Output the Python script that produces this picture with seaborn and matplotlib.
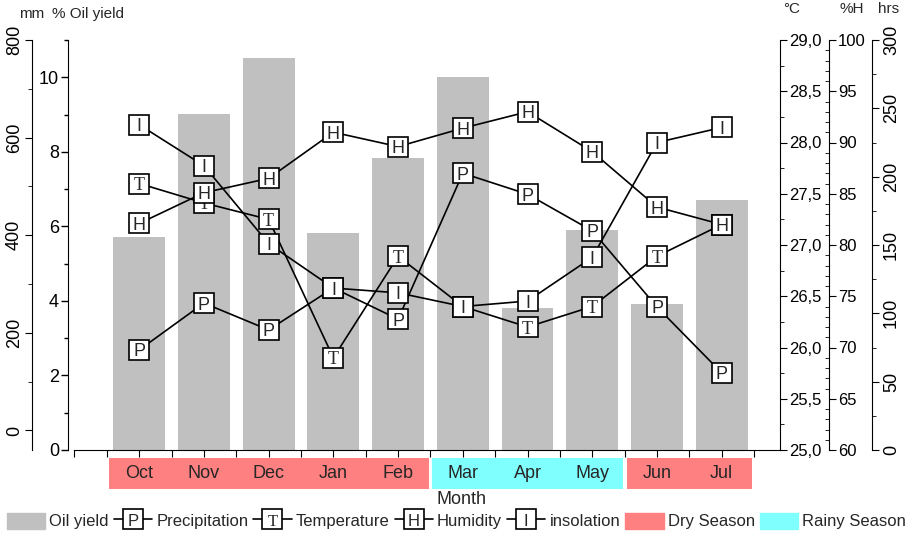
import numpy as np
import matplotlib
matplotlib.use('Agg')
import matplotlib.pyplot as plt
import seaborn as sns
from matplotlib.ticker import MultipleLocator, FuncFormatter
from matplotlib.lines import Line2D
from matplotlib.patches import Patch, Rectangle
from matplotlib.legend_handler import HandlerBase
from matplotlib.text import Text

# data
months = ['Oct', 'Nov', 'Dec', 'Jan', 'Feb', 'Mar', 'Apr', 'May', 'Jun', 'Jul']
seasons = ['Dry', 'Dry', 'Dry', 'Dry', 'Dry', 'Rainy', 'Rainy', 'Rainy', 'Dry', 'Dry']
oil_yield = [5.72, 9.02, 10.53, 5.82, 7.83, 10.02, 3.81, 5.90, 3.92, 6.71]     # %
precip_mm = [165, 261, 206, 292, 228, 527, 484, 409, 253, 118]               # mm
temp_c = [27.60, 27.41, 27.25, 25.90, 26.89, 26.40, 26.20, 26.40, 26.89, 27.20]
humidity = [82.1, 85.1, 86.5, 91.0, 89.6, 91.4, 93.0, 89.1, 83.7, 82.0]      # %H
insolation = [238, 208, 151, 118.5, 115, 105, 109, 141, 225, 236]            # hrs

BAR_GREY = '#c0c0c0'
DRY_RED = '#ff8080'
RAINY_CYAN = '#80ffff'

sns.set_style('ticks', rc={'axes.edgecolor': 'black', 'xtick.color': 'black',
                           'ytick.color': 'black', 'axes.linewidth': 1.0})
plt.rcParams['font.family'] = ['Liberation Sans', 'DejaVu Sans']

W, H = 913, 536
fig = plt.figure(figsize=(W / 100, H / 100), dpi=100)
ax = fig.add_axes([68 / W, 86 / H, 712 / W, 410 / H])

x = np.arange(len(months))
sns.barplot(x=x, y=oil_yield, native_scale=True, width=0.8, color=BAR_GREY,
            saturation=1, linewidth=0, ax=ax)
ax.set_xlim(-1.1, 9.9)
ax.set_ylim(0, 11)
ax.set_xlabel('')
ax.set_ylabel('')
ax.spines['top'].set_visible(False)
ax.spines['right'].set_visible(False)
ax.spines['bottom'].set_bounds(-1, 9.9)
ax.xaxis.set_major_locator(MultipleLocator(0.5))
ax.yaxis.set_major_locator(MultipleLocator(2))
ax.yaxis.set_minor_locator(MultipleLocator(1))
ax.tick_params(axis='x', which='both', direction='out', length=5, labelbottom=False)
ax.tick_params(axis='y', which='major', length=5, width=1, labelsize=13, pad=1.5)
ax.tick_params(axis='y', which='minor', length=3, width=1, left=True)


def make_twin(side, offset):
    t = ax.twinx()
    for s in ['top', 'bottom', 'left', 'right']:
        t.spines[s].set_visible(False)
    t.spines[side].set_visible(True)
    t.spines[side].set_position(('axes', offset))
    if side == 'left':
        t.yaxis.tick_left()
    else:
        t.yaxis.tick_right()
    return t


ax_mm = make_twin('left', -36 / 712)
ax_c = make_twin('right', 1.0)
ax_h = make_twin('right', (829 - 68) / 712)
ax_i = make_twin('right', (872 - 68) / 712)

ax_mm.set_ylim(-40, 800)
ax_mm.yaxis.set_major_locator(MultipleLocator(200))
ax_mm.yaxis.set_minor_locator(MultipleLocator(100))
ax_mm.tick_params(axis='y', which='major', length=5, labelsize=13, labelrotation=90, pad=1.5)
ax_mm.tick_params(axis='y', which='minor', length=3, left=True)

ax_c.set_ylim(25, 29)
ax_c.yaxis.set_major_locator(MultipleLocator(0.5))
ax_c.yaxis.set_minor_locator(MultipleLocator(0.25))
ax_c.yaxis.set_major_formatter(FuncFormatter(lambda v, p: f'{v:.1f}'.replace('.', ',')))
ax_c.tick_params(axis='y', which='major', length=5, labelsize=12, pad=1.5)
ax_c.tick_params(axis='y', which='minor', length=3, right=True)

ax_h.set_ylim(60, 100)
ax_h.yaxis.set_major_locator(MultipleLocator(5))
ax_h.yaxis.set_minor_locator(MultipleLocator(1))
ax_h.tick_params(axis='y', which='major', length=5, labelsize=12, pad=1.5)
ax_h.tick_params(axis='y', which='minor', length=3, direction='in', right=True)

ax_i.set_ylim(0, 300)
ax_i.yaxis.set_major_locator(MultipleLocator(50))
ax_i.yaxis.set_minor_locator(MultipleLocator(25))
ax_i.tick_params(axis='y', which='major', length=5, labelsize=13, labelrotation=90, pad=3)
ax_i.tick_params(axis='y', which='minor', length=3, right=True)
for lab in ax_mm.get_yticklabels() + ax_i.get_yticklabels():
    lab.set_va('center')


def draw_series(axis, values, letter, family):
    sns.lineplot(x=x, y=values, ax=axis, color='black', linewidth=1.2,
                 marker='s', markersize=15, markerfacecolor='white',
                 markeredgecolor='black', markeredgewidth=1.2,
                 estimator=None, sort=False)
    for xi, yi in zip(x, values):
        axis.text(xi, yi, letter, ha='center', va='center_baseline',
                  fontsize=13, family=family, zorder=4)
    axis.set_ylabel('')


draw_series(ax_mm, precip_mm, 'P', 'Liberation Sans')
draw_series(ax_c, temp_c, 'T', 'Liberation Serif')
draw_series(ax_h, humidity, 'H', 'Liberation Sans')
draw_series(ax_i, insolation, 'I', 'Liberation Sans')

# season strip with month names
ax_s = fig.add_axes([68 / W, 47 / H, 712 / W, 31 / H])
ax_s.set_xlim(ax.get_xlim())
ax_s.set_ylim(0, 1)
ax_s.axis('off')
season_colors = {'Dry': DRY_RED, 'Rainy': RAINY_CYAN}
start = 0
for i in range(1, len(seasons) + 1):
    if i == len(seasons) or seasons[i] != seasons[start]:
        ax_s.add_patch(Rectangle((start - 0.47, 0), (i - 1 - start) + 0.94, 1,
                                 color=season_colors[seasons[start]], lw=0))
        start = i
for xi, m in zip(x, months):
    ax_s.text(xi, 0.5, m, ha='center', va='center', fontsize=13)

fig.text(462 / W, 1 - 500 / H, 'Month', ha='center', va='center', fontsize=13)

# axis unit labels at the top
fig.text(32 / W, 1 - 14 / H, 'mm', ha='center', va='center', fontsize=11)
fig.text(52 / W, 1 - 14 / H, '% Oil yield', ha='left', va='center', fontsize=11)
fig.text(792 / W, 1 - 9 / H, '°C', ha='center', va='center', fontsize=11)
fig.text(852 / W, 1 - 9 / H, '%H', ha='center', va='center', fontsize=11)
fig.text(889 / W, 1 - 9 / H, 'hrs', ha='center', va='center', fontsize=11)


class LetterHandler(HandlerBase):
    def __init__(self, letter, family):
        super().__init__()
        self.letter = letter
        self.family = family

    def create_artists(self, legend, orig_handle, xdescent, ydescent,
                       width, height, fontsize, trans):
        yc = (height - ydescent) / 2
        xc = width / 2 - xdescent
        line = Line2D([-xdescent, width - xdescent], [yc, yc], color='black',
                      lw=1.2, transform=trans)
        box = Line2D([xc], [yc], marker='s', markersize=14, markerfacecolor='white',
                     markeredgecolor='black', markeredgewidth=1.2, linestyle='none',
                     transform=trans)
        txt = Text(xc, yc, self.letter, ha='center', va='center_baseline',
                   fontsize=12, family=self.family, transform=trans)
        return [line, box, txt]


h_p, h_t, h_h, h_i = Line2D([], []), Line2D([], []), Line2D([], []), Line2D([], [])
handles = [Patch(color=BAR_GREY), h_p, h_t, h_h, h_i,
           Patch(color=DRY_RED), Patch(color=RAINY_CYAN)]
labels = ['Oil yield', 'Precipitation', 'Temperature', 'Humidity', 'insolation',
          'Dry Season', 'Rainy Season']
fig.legend(handles, labels, loc='center', bbox_to_anchor=(0.5, 1 - 521 / H),
           ncol=7, frameon=False, fontsize=12, handlelength=2.3, handleheight=1.15,
           handletextpad=0.25, columnspacing=0.3, borderpad=0,
           handler_map={h_p: LetterHandler('P', 'Liberation Sans'),
                        h_t: LetterHandler('T', 'Liberation Serif'),
                        h_h: LetterHandler('H', 'Liberation Sans'),
                        h_i: LetterHandler('I', 'Liberation Sans')})

fig.savefig('out.png', dpi=100)
